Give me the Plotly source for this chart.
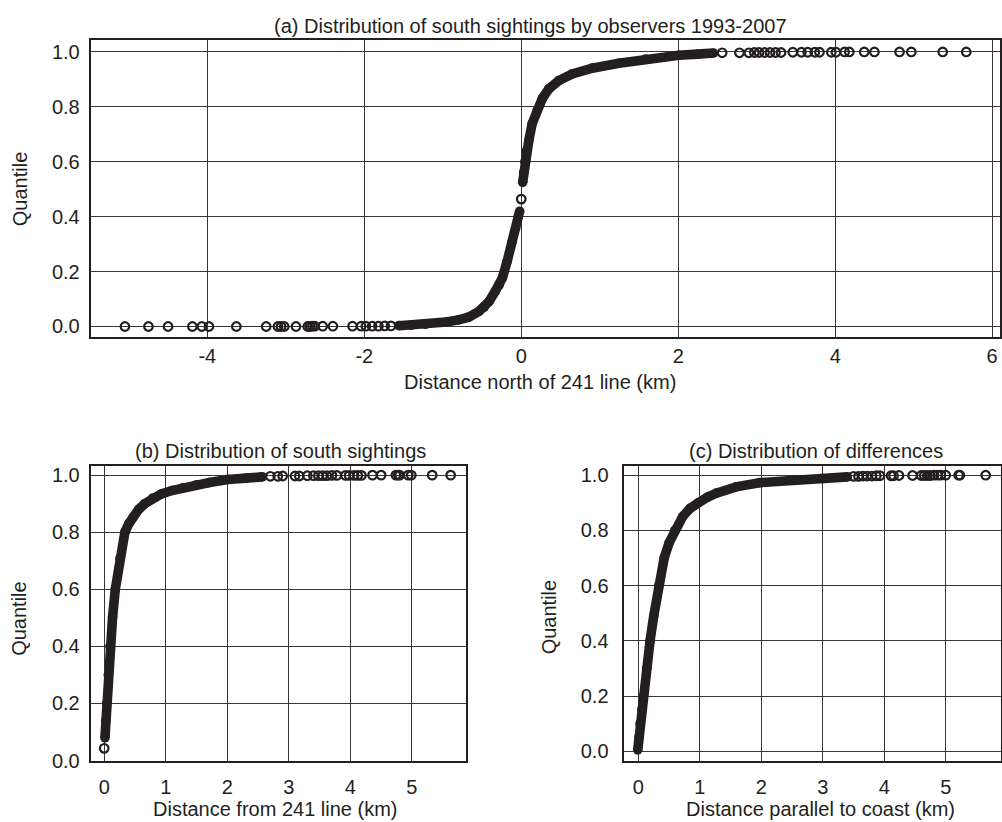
import plotly.graph_objects as go

W, H = 1002, 822
INK = "#231f20"
GRID = "#363636"
FONT = "Liberation Sans, Arial, Helvetica, sans-serif"
FS = 20

# ---------------- (a) distance north of the 241 line ----------------
# dense body of the quantile curve, below and above the tie at zero
a_lo_x = [-1.56, -1.40, -1.22, -0.96, -0.80, -0.67, -0.54, -0.47, -0.41, -0.33,
          -0.28, -0.24, -0.18, -0.115, -0.072, -0.038, -0.02]
a_lo_q = [0.003, 0.005, 0.008, 0.016, 0.024, 0.034, 0.055, 0.071, 0.091, 0.129,
          0.152, 0.177, 0.237, 0.309, 0.357, 0.400, 0.420]
a_hi_x = [0.018, 0.030, 0.045, 0.065, 0.098, 0.14, 0.204, 0.268, 0.352, 0.48,
          0.65, 0.904, 1.244, 1.584, 2.008, 2.25, 2.45]
a_hi_q = [0.525, 0.560, 0.600, 0.640, 0.680, 0.740, 0.788, 0.830, 0.866, 0.896,
          0.920, 0.941, 0.959, 0.974, 0.988, 0.992, 0.996]
# isolated observations
a_pts_x = [-5.05, -4.75, -4.50, -4.19, -4.07, -3.98, -3.63, -3.25, -3.10, -3.06,
           -3.02, -2.87, -2.72, -2.69, -2.66, -2.63, -2.53, -2.40, -2.15, -2.04,
           -1.98, -1.90, -1.82, -1.74, -1.66,
           0.0,
           2.56, 2.78, 2.90, 2.97, 3.03, 3.10, 3.17, 3.24, 3.31, 3.46, 3.57,
           3.65, 3.74, 3.80, 3.95, 4.01, 4.12, 4.18, 4.37, 4.50, 4.82, 4.97,
           5.37, 5.67]
a_pts_q = [0.000, 0.000, 0.000, 0.000, 0.000, 0.000, 0.000, 0.000, 0.000, 0.000,
           0.000, 0.000, 0.000, 0.000, 0.001, 0.001, 0.001, 0.001, 0.001, 0.001,
           0.001, 0.001, 0.001, 0.002, 0.002,
           0.464,
           0.997, 0.997, 0.997, 0.998, 0.998, 0.998, 0.998, 0.998, 0.998, 0.999, 0.999,
           0.999, 0.999, 0.999, 0.999, 0.999, 1.000, 1.000, 1.000, 1.000, 1.000, 1.000,
           1.000, 1.000]

# ---------------- (b) distance from the 241 line ----------------
b_body_x = [0.012, 0.025, 0.039, 0.066, 0.093, 0.136, 0.18, 0.255, 0.336, 0.40,
            0.47, 0.56, 0.66, 0.79, 0.93, 1.10, 1.28, 1.50, 1.71, 2.01, 2.30, 2.57]
b_body_q = [0.080, 0.140, 0.200, 0.300, 0.400, 0.503, 0.600, 0.708, 0.800, 0.830,
            0.853, 0.880, 0.900, 0.920, 0.934, 0.946, 0.956, 0.966, 0.974, 0.985,
            0.990, 0.994]
b_pts_x = [0.0,
           2.70, 2.82, 2.90, 3.10, 3.17, 3.30, 3.40, 3.48, 3.55, 3.62, 3.70, 3.78,
           3.92, 3.98, 4.06, 4.12, 4.18, 4.36, 4.50, 4.74, 4.78, 4.80, 4.94, 4.99,
           5.33, 5.63]
b_pts_q = [0.043,
           0.996, 0.996, 0.997, 0.997, 0.997, 0.998, 0.998, 0.998, 0.998, 0.998, 0.999, 0.999,
           0.999, 0.999, 0.999, 0.999, 0.999, 1.000, 1.000, 1.000, 1.000, 1.000, 1.000, 1.000,
           1.000, 1.000]

# ---------------- (c) differences parallel to the coast ----------------
c_body_x = [-0.01, 0.010, 0.027, 0.055, 0.082, 0.136, 0.19, 0.25, 0.33, 0.42,
            0.50, 0.59, 0.72, 0.84, 0.97, 1.12, 1.27, 1.59, 1.97, 2.50, 3.00, 3.40]
c_body_q = [0.005, 0.050, 0.100, 0.150, 0.200, 0.300, 0.400, 0.490, 0.600, 0.700,
            0.755, 0.800, 0.850, 0.880, 0.900, 0.920, 0.935, 0.958, 0.973, 0.982,
            0.988, 0.994]
c_pts_x = [3.50, 3.58, 3.65, 3.72, 3.80, 3.87, 3.93, 4.11, 4.15, 4.24, 4.46,
           4.60, 4.65, 4.70, 4.75, 4.81, 4.87, 4.92, 5.00, 5.21, 5.23, 5.65]
c_pts_q = [0.996, 0.996, 0.997, 0.997, 0.997, 0.998, 0.998, 0.998, 0.998, 0.999, 0.999,
           0.999, 0.999, 0.999, 0.999, 1.000, 1.000, 1.000, 1.000, 1.000, 1.000, 1.000]

quant_ticks = [0.0, 0.2, 0.4, 0.6, 0.8, 1.0]
a_xticks = [-4, -2, 0, 2, 4, 6]
bc_xticks = [0, 1, 2, 3, 4, 5]

fig = go.Figure()


def body(x, q, xa, ya):
    # thousands of overlapping open circles read as one solid band
    fig.add_trace(go.Scatter(
        x=x, y=q, xaxis=xa, yaxis=ya, mode="lines+markers",
        line=dict(color=INK, width=9.6),
        marker=dict(symbol="circle", size=9.6, color=INK, line=dict(width=0)),
        hoverinfo="skip", showlegend=False))


def points(x, q, xa, ya):
    fig.add_trace(go.Scatter(
        x=x, y=q, xaxis=xa, yaxis=ya, mode="markers",
        marker=dict(symbol="circle-open", size=8.6, color=INK, line=dict(width=2.2, color=INK)),
        hoverinfo="skip", showlegend=False))


body(a_lo_x, a_lo_q, "x", "y")
body(a_hi_x, a_hi_q, "x", "y")
points(a_pts_x, a_pts_q, "x", "y")
body(b_body_x, b_body_q, "x2", "y2")
points(b_pts_x, b_pts_q, "x2", "y2")
body(c_body_x, c_body_q, "x3", "y3")
points(c_pts_x, c_pts_q, "x3", "y3")


def px(v):
    return v / W


def py(v):
    return 1 - v / H


common = dict(showline=True, linecolor=INK, linewidth=1.7, mirror=True,
              showgrid=True, gridcolor=GRID, gridwidth=1.2, zeroline=False,
              ticks="outside", tickcolor="rgba(0,0,0,0)",
              tickfont=dict(family=FONT, size=FS, color=INK))

fig.update_layout(
    width=W, height=H, margin=dict(l=0, r=0, t=0, b=0),
    paper_bgcolor="white", plot_bgcolor="white", showlegend=False,
    xaxis=dict(domain=[px(90.7), px(1001)], range=[-5.487, 6.10],
               tickvals=a_xticks, ticktext=[str(v) for v in a_xticks],
               ticklen=0, anchor="y", **common),
    yaxis=dict(domain=[py(340), py(39)], range=[-0.0384, 1.042],
               tickvals=quant_ticks, ticktext=["%.1f" % v for v in quant_ticks],
               ticklen=5, anchor="x", **common),
    xaxis2=dict(domain=[px(90.7), px(466.7)], range=[-0.221, 5.883],
                tickvals=bc_xticks, ticktext=[str(v) for v in bc_xticks],
                ticklen=7, anchor="y2", **common),
    yaxis2=dict(domain=[py(770.7), py(470.7)], range=[-0.003, 1.0326],
                tickvals=quant_ticks, ticktext=["%.1f" % v for v in quant_ticks],
                ticklen=5, anchor="x2", **common),
    xaxis3=dict(domain=[px(625), px(1001.7)], range=[-0.2275, 5.894],
                tickvals=bc_xticks, ticktext=[str(v) for v in bc_xticks],
                ticklen=7, anchor="y3", **common),
    yaxis3=dict(domain=[py(770.7), py(470.7)], range=[-0.037, 1.034],
                tickvals=quant_ticks, ticktext=["%.1f" % v for v in quant_ticks],
                ticklen=10, anchor="x3", **common),
)

labels = [
    ("(a) Distribution of south sightings by observers 1993-2007", 531, 24, 0),
    ("Distance north of 241 line (km)", 541, 386, 0),
    ("Quantile", 20, 189, -90),
    ("(b) Distribution of south sightings", 280.5, 456, 0),
    ("Distance from 241 line (km)", 276, 819, 0),
    ("Quantile", 19, 625, -90),
    ("(c) Distribution of differences", 817, 456, 0),
    ("Distance parallel to coast (km)", 821, 819, 0),
    ("Quantile", 549, 624, -90),
]
for text, x, y, ang in labels:
    fig.add_annotation(text=text, x=px(x), y=py(y), xref="paper", yref="paper",
                       xanchor="center", yanchor="middle", showarrow=False,
                       textangle=ang, borderpad=0,
                       font=dict(family=FONT, size=FS, color=INK))

fig.write_html("out.html")
